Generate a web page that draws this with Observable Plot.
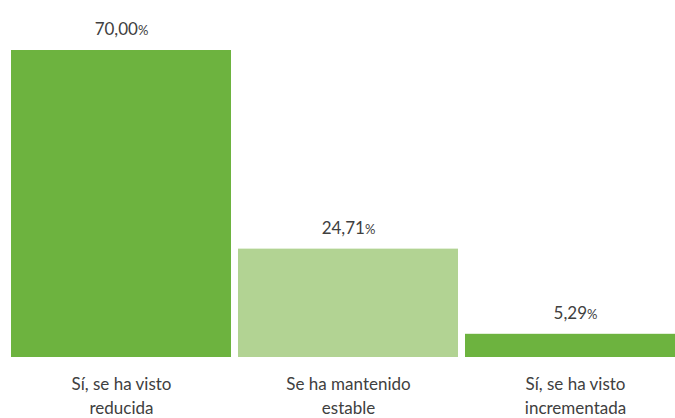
<!DOCTYPE html>
<html><head><meta charset="utf-8">
<script src="https://cdn.jsdelivr.net/npm/d3@7"></script>
<script src="https://cdn.jsdelivr.net/npm/@observablehq/plot@0.6"></script>
<style>
body{margin:0;background:#fff;}
svg{display:block;}
</style>
</head><body><div id="chart"></div>
<script>
const categories = ["Sí, se ha visto\nreducida", "Se ha mantenido\nestable", "Sí, se ha visto\nincrementada"];
const values = [70.00, 24.71, 5.29];
const colors = ["#6db33f", "#b2d393", "#6db33f"];

const data = categories.map((c, i) => ({cat: c, v: values[i], color: colors[i]}));
const fmt = v => v.toFixed(2).replace(".", ",") + "%";

const chart = Plot.plot({
  width: 675,
  height: 418,
  marginTop: 0, marginBottom: 0, marginLeft: 0, marginRight: 0,
  style: {fontFamily: "Lato, 'Open Sans', sans-serif", color: "#404040", background: "#fff"},
  x: {domain: categories, range: [11, 685], paddingInner: 7/227, paddingOuter: 0, axis: null},
  y: {domain: [0, 70], range: [357, 50], axis: null},
  marks: [
    Plot.barY(data, {x: "cat", y: "v", fill: "color"}),
    Plot.text(data, {x: "cat", y: "v", text: d => fmt(d.v), dy: -21, fontSize: 17, fill: "#404040", className: "vals"}),
    Plot.text(data, {x: "cat", y: 0, text: "cat", dy: 37, lineHeight: 1.4, fontSize: 17, fill: "#404040", lineAnchor: "middle"})
  ]
});
document.getElementById("chart").appendChild(chart);
d3.selectAll(".vals text").each(function(){
  const t = this.textContent;
  if (t.endsWith("%")) {
    const sel = d3.select(this);
    sel.text(t.slice(0, -1));
    sel.append("tspan").attr("font-size", 13).text("%");
  }
});
</script>
</body></html>
